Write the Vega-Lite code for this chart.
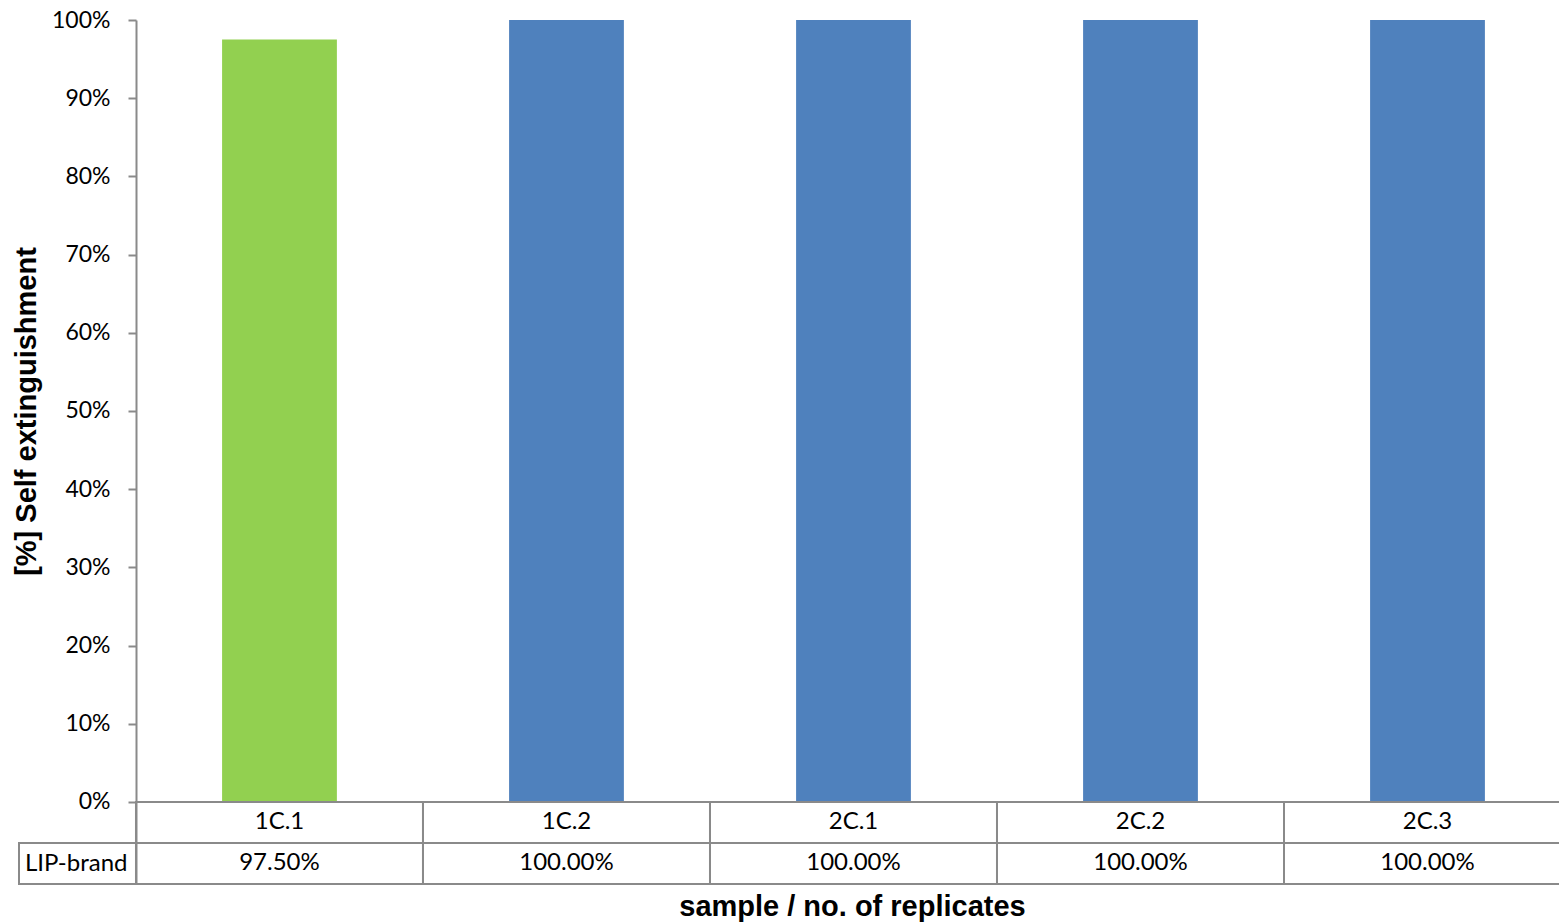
{
  "$schema": "https://vega.github.io/schema/vega-lite/v6.json",
  "width": 1552,
  "height": 864,
  "autosize": {"type": "none"},
  "padding": {"left": 19, "top": 20, "right": -12, "bottom": 39},
  "background": "white",
  "config": {"view": {"stroke": null}, "font": "Lato"},
  "data": {
    "values": [
      {"sample": "1C.1", "value": 0.975},
      {"sample": "1C.2", "value": 1.0},
      {"sample": "2C.1", "value": 1.0},
      {"sample": "2C.2", "value": 1.0},
      {"sample": "2C.3", "value": 1.0}
    ]
  },
  "layer": [
    {
      "mark": {"type": "bar", "width": {"band": 0.4}},
      "encoding": {
        "x": {
          "field": "sample", "type": "nominal", "sort": null,
          "scale": {"paddingInner": 0, "paddingOuter": 0.2038, "align": 1},
          "axis": {
            "title": "sample / no. of replicates",
            "domain": false, "ticks": false, "labels": false,
            "titleFont": "Liberation Sans", "titleFontWeight": "bold", "titleFontSize": 29,
            "titleColor": "black",
            "titleX": 833, "titleY": 31, "titleBaseline": "alphabetic", "titleAlign": "center"
          }
        },
        "y": {
          "field": "value", "type": "quantitative",
          "scale": {"domain": [-0.1049, 1], "nice": false, "zero": false},
          "axis": {
            "title": "[%] Self extinguishment",
            "values": [-0.0786, 0, 0.1, 0.2, 0.3, 0.4, 0.5, 0.6, 0.7, 0.8, 0.9, 1],
            "labelExpr": "datum.value < 0 ? 'LIP-brand' : format(datum.value, '.0%')",
            "offset": -117,
            "grid": false,
            "domainColor": "#8a8a8a", "domainWidth": 2,
            "tickColor": "#8a8a8a", "tickWidth": 2, "tickSize": 8,
            "tickOpacity": {"condition": {"test": "datum.value < 0", "value": 0}, "value": 1},
            "labelPadding": {"condition": {"test": "datum.value < 0", "value": 1}, "value": 18},
            "labelFontSize": {"condition": {"test": "datum.value < 0", "value": 24}, "value": 23},
            "labelFont": "Lato", "labelColor": "black",
            "titleFont": "Liberation Sans", "titleFontWeight": "bold", "titleFontSize": 29,
            "titleColor": "black",
            "titleX": -95, "titleY": 391, "titleBaseline": "bottom", "titleAlign": "center", "titleAngle": 270
          }
        },
        "color": {
          "field": "sample", "type": "nominal", "legend": null,
          "scale": {"domain": ["1C.1", "1C.2", "2C.1", "2C.2", "2C.3"], "range": ["#92D050", "#4F81BD", "#4F81BD", "#4F81BD", "#4F81BD"]}
        }
      }
    },
    {
      "mark": {"type": "rect", "fill": "transparent", "stroke": "#8a8a8a", "strokeWidth": 2},
      "encoding": {
        "y": {"datum": -0.0524},
        "y2": {"datum": -0.1049}
      }
    },
    {
      "mark": {"type": "rect", "fill": "transparent", "stroke": "#8a8a8a", "strokeWidth": 2},
      "encoding": {
        "x": {"field": "sample", "type": "nominal", "sort": null},
        "y": {"datum": 0},
        "y2": {"datum": -0.0524}
      }
    },
    {
      "mark": {"type": "rect", "fill": "transparent", "stroke": "#8a8a8a", "strokeWidth": 2},
      "encoding": {
        "x": {"field": "sample", "type": "nominal", "sort": null},
        "y": {"datum": -0.0524},
        "y2": {"datum": -0.1049}
      }
    },
    {
      "mark": {"type": "text", "font": "Lato", "fontSize": 24, "color": "black", "baseline": "middle"},
      "encoding": {
        "x": {"field": "sample", "type": "nominal", "sort": null},
        "y": {"datum": -0.0262},
        "text": {"field": "sample"}
      }
    },
    {
      "mark": {"type": "text", "font": "Lato", "fontSize": 24, "color": "black", "baseline": "middle"},
      "encoding": {
        "x": {"field": "sample", "type": "nominal", "sort": null},
        "y": {"datum": -0.0786},
        "text": {"field": "value", "format": ".2%"}
      }
    }
  ]
}
